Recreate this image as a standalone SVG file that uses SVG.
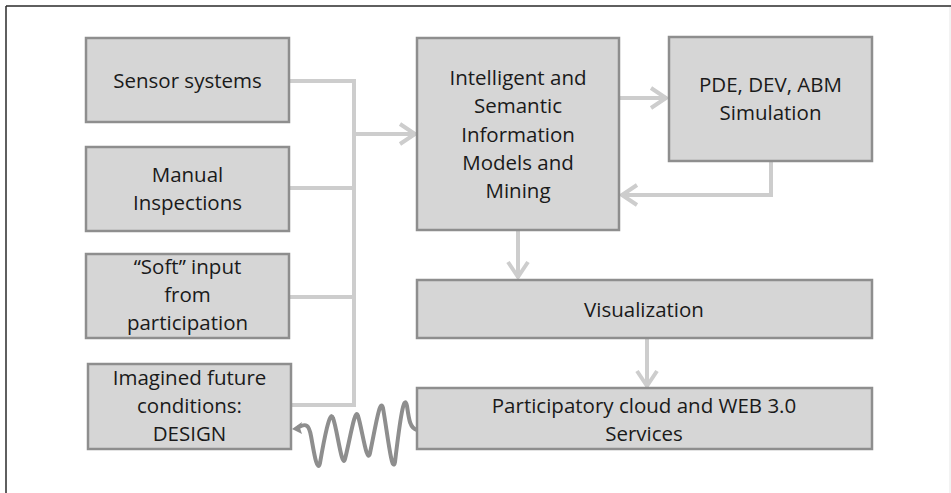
<svg xmlns="http://www.w3.org/2000/svg" width="951" height="493" viewBox="0 0 951 493">
<style>
.box{fill:#d6d6d6;stroke:#8e8e8e;stroke-width:2.5}
.t{font-family:"Open Sans","Liberation Sans",sans-serif;font-size:20.5px;fill:#1a1a1a;text-anchor:middle}
.c{fill:none;stroke:#cdcdcd;stroke-width:4}
.w{fill:none;stroke:#8e8e8e;stroke-width:4;stroke-linecap:round}
</style>
<defs>
<marker id="chev" markerUnits="userSpaceOnUse" markerWidth="24" markerHeight="24" viewBox="-20 -12 24 24" refX="0" refY="0" orient="auto">
<polyline points="-16,-10 -1,0 -16,10" fill="none" stroke="#cdcdcd" stroke-width="4"/>
</marker>
</defs>
<rect x="0" y="0" width="951" height="493" fill="#ffffff"/>
<line x1="6" y1="6" x2="951" y2="6" stroke="#2a2a2a" stroke-width="1.5"/>
<line x1="6" y1="6" x2="6" y2="493" stroke="#2a2a2a" stroke-width="1.5"/>
<line x1="950" y1="7" x2="950" y2="493" stroke="#e6e6e6" stroke-width="1"/>

<g id="connectors">
<polyline class="c" points="289,81 354,81 354,405 291,405"/>
<line class="c" x1="289" y1="188" x2="354" y2="188"/>
<line class="c" x1="289" y1="297" x2="354" y2="297"/>
<line class="c" x1="354" y1="134" x2="416" y2="134" marker-end="url(#chev)"/>
<line class="c" x1="619" y1="98" x2="667" y2="98" marker-end="url(#chev)"/>
<polyline class="c" points="771,161 771,195 621,195" marker-end="url(#chev)"/>
<line class="c" x1="518" y1="230" x2="518" y2="278" marker-end="url(#chev)"/>
<line class="c" x1="647" y1="338" x2="647" y2="387" marker-end="url(#chev)"/>
<path class="w" d="M417,430 C410,428 409,420 407,406 C404,392 400,420 395,462 C392,476 387,430 383,408 C380,396 375,430 370,453 C367,466 362,428 358,416 C355,406 350,440 345,459 C342,470 337,428 333,418 C330,408 324,440 320,463 C317,475 313,446 311,436 C309,425 306,423 299,427"/>
<polygon points="292,429 302,422 300,428 302,434" fill="#8e8e8e"/>
</g>

<g id="sensor">
<rect class="box" x="86" y="38" width="203" height="84"/>
<text class="t" x="187.5" y="88">Sensor systems</text>
</g>
<g id="manual">
<rect class="box" x="86" y="147" width="203" height="84"/>
<text class="t" x="187.5" y="182">Manual</text>
<text class="t" x="187.5" y="210">Inspections</text>
</g>
<g id="soft">
<rect class="box" x="86" y="254" width="203" height="84"/>
<text class="t" x="187.5" y="274">“Soft” input</text>
<text class="t" x="187.5" y="302">from</text>
<text class="t" x="187.5" y="330">participation</text>
</g>
<g id="imagined">
<rect class="box" x="88" y="364" width="203" height="85"/>
<text class="t" x="189.5" y="385">Imagined future</text>
<text class="t" x="189.5" y="413">conditions:</text>
<text class="t" x="189.5" y="441">DESIGN</text>
</g>
<g id="intelligent">
<rect class="box" x="417" y="38" width="202" height="192"/>
<text class="t" x="518" y="85">Intelligent and</text>
<text class="t" x="518" y="113">Semantic</text>
<text class="t" x="518" y="142">Information</text>
<text class="t" x="518" y="170">Models and</text>
<text class="t" x="518" y="198">Mining</text>
</g>
<g id="pde">
<rect class="box" x="669" y="37" width="203" height="124"/>
<text class="t" x="770.5" y="92">PDE, DEV, ABM</text>
<text class="t" x="770.5" y="120">Simulation</text>
</g>
<g id="visualization">
<rect class="box" x="417" y="280" width="455" height="58"/>
<text class="t" x="644" y="317">Visualization</text>
</g>
<g id="participatory">
<rect class="box" x="417" y="388" width="455" height="61"/>
<text class="t" x="644" y="413">Participatory cloud and WEB 3.0</text>
<text class="t" x="644" y="441">Services</text>
</g>
</svg>
